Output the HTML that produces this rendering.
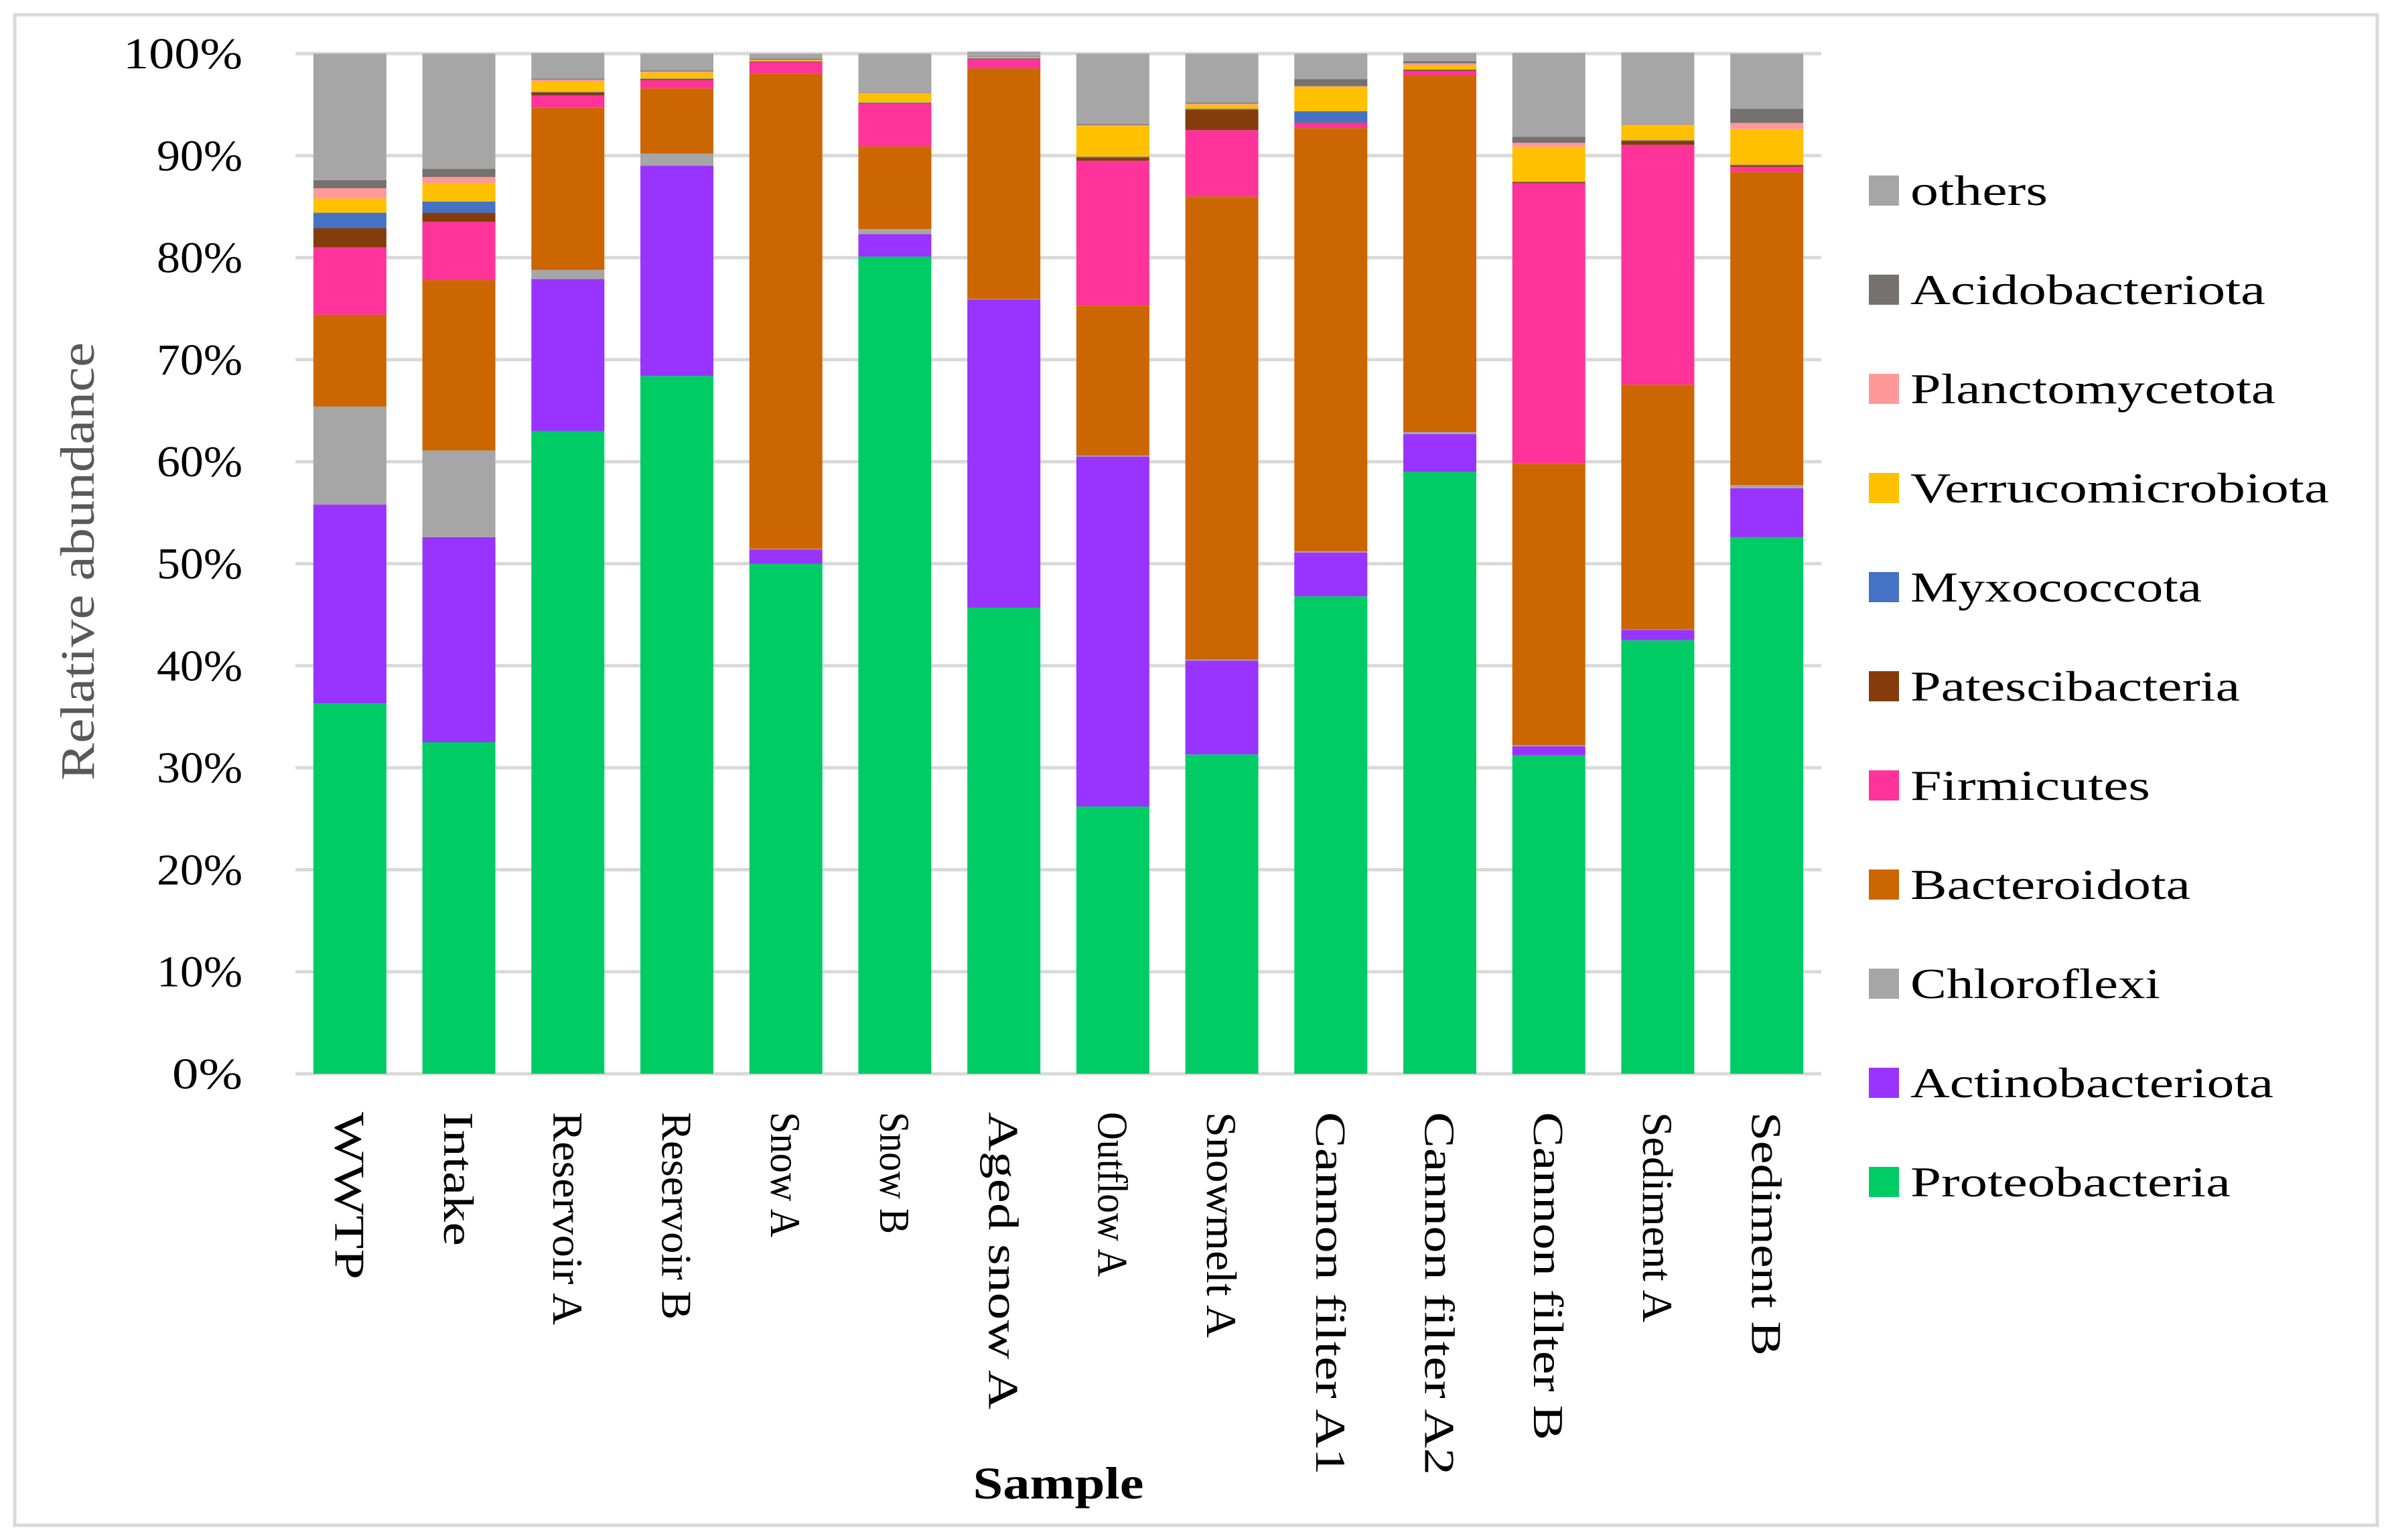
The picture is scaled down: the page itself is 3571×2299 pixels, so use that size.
<!DOCTYPE html>
<html><head><meta charset="utf-8"><style>
html,body{margin:0;padding:0;background:#fff;}
svg{display:block;}
</style></head><body>
<svg id="chart" width="3571" height="2299" viewBox="0 0 3571 2299" xmlns="http://www.w3.org/2000/svg" font-family="'Liberation Serif', serif">
<rect x="22" y="22" width="3527" height="2255" fill="#fff" stroke="#d9d9d9" stroke-width="5"/>
<g id="grid"></g><g id="bars"></g><g id="yticks"></g><g id="xlabels"></g><g id="legend"></g>
<text transform="translate(140,838) rotate(-90)" text-anchor="middle" font-size="72" fill="#595959" textLength="654" lengthAdjust="spacingAndGlyphs">Relative abundance</text>
<text x="1580" y="2237" text-anchor="middle" font-size="68" font-weight="bold" fill="#000" textLength="255" lengthAdjust="spacingAndGlyphs">Sample</text>
</svg>
<script>
const categories = ["WWTP","Intake","Reservoir A","Reservoir B","Snow A","Snow B","Aged snow A","Outflow A","Snowmelt A","Cannon filter A1","Cannon filter A2","Cannon filter B","Sediment A","Sediment B"];
const seriesNames = ["Proteobacteria","Actinobacteriota","Chloroflexi","Bacteroidota","Firmicutes","Patescibacteria","Myxococcota","Verrucomicrobiota","Planctomycetota","Acidobacteriota","others"];
const proteobacteria = [36.3,32.5,63.0,68.4,50.0,80.1,45.7,26.2,31.3,46.8,59.0,31.2,42.5,52.6];
const actinobacteriota = [19.5,20.1,14.9,20.6,1.4,2.2,30.2,34.3,9.2,4.3,3.7,0.9,1.0,4.8];
const chloroflexi = [9.6,8.5,0.9,1.2,0.05,0.5,0.05,0.1,0.1,0.1,0.2,0.1,0.05,0.3];
const bacteroidota = [9.0,16.7,15.9,6.4,46.6,8.1,22.6,14.7,45.4,41.5,35.0,27.6,24.0,30.7];
const firmicutes = [6.6,5.7,1.2,0.8,1.1,4.2,0.9,14.2,6.5,0.5,0.4,27.5,23.5,0.5];
const patescibacteria = [1.9,0.9,0.3,0.1,0.05,0.05,0.05,0.3,2.0,0.05,0.1,0.1,0.4,0.1];
const myxococcota = [1.5,1.1,0.05,0.05,0.05,0.05,0.05,0.1,0.1,1.1,0.05,0.05,0.05,0.1];
const verrucomicrobiota = [1.4,1.8,1.0,0.6,0.1,0.9,0.05,3.0,0.4,2.4,0.4,3.4,1.5,3.5];
const planctomycetota = [1.0,0.6,0.2,0.1,0.05,0.05,0.05,0.1,0.1,0.05,0.2,0.4,0.05,0.6];
const acidobacteriota = [0.8,0.8,0.1,0.1,0.1,0.05,0.05,0.1,0.1,0.7,0.2,0.6,0.05,1.4];
const others = [12.4,11.3,2.5,1.65,0.5,3.8,0.5,6.9,4.8,2.5,0.8,8.2,7.0,5.4];
const yTicks = [0,10,20,30,40,50,60,70,80,90,100];

const series = [proteobacteria,actinobacteriota,chloroflexi,bacteroidota,firmicutes,patescibacteria,myxococcota,verrucomicrobiota,planctomycetota,acidobacteriota,others];
const colors = ["#00CC66","#9933FF","#A6A6A6","#CC6600","#FF3399","#843C0C","#4472C4","#FFC000","#FF9999","#767171","#A6A6A6"];
const xLabelLen = {"WWTP":250,"Intake":200,"Reservoir A":318,"Reservoir B":310,"Snow A":187,"Snow B":182,"Aged snow A":444,"Outflow A":246,"Snowmelt A":337,"Cannon filter A1":542,"Cannon filter A2":542,"Cannon filter B":490,"Sediment A":314,"Sediment B":364};
const NS="http://www.w3.org/2000/svg";
const X0=441, X1=2719, Y0=1603, Y1=80;
const band=(X1-X0)/categories.length, barW=109;
function yScale(v){return Y0-(v/100)*(Y0-Y1);}
function xCenter(i){return X0+(i+0.5)*band;}
function mk(tag,attrs,parent){const e=document.createElementNS(NS,tag);for(const k in attrs)e.setAttribute(k,attrs[k]);parent.appendChild(e);return e;}
const grid=document.getElementById('grid'), yt=document.getElementById('yticks');
yTicks.forEach(t=>{
  const l=mk('line',{x1:X0,x2:X1,y1:yScale(t),y2:yScale(t),stroke:'#d9d9d9','stroke-width':5},grid);
  
  
  const len = t===100?178:(t===0?105:128);
  const tx=mk('text',{x:362-len,y:yScale(t)+22,'font-size':66,fill:'#000',textLength:len,lengthAdjust:'spacingAndGlyphs'},yt);
  tx.textContent=t+'%';
  
  
});
const bars=document.getElementById('bars'), xl=document.getElementById('xlabels');
categories.forEach((c,i)=>{
  let cum=0;
  series.forEach((s,k)=>{
    const v=s[i];
    const r=mk('rect',{x:xCenter(i)-barW/2,y:yScale(cum+v),width:barW,height:Math.max(0,yScale(cum)-yScale(cum+v)),fill:colors[k]},bars);
    
    
    cum+=v;
  });
  const t=mk('text',{transform:'translate('+(xCenter(i)-22)+',1660) rotate(90)','font-size':63,fill:'#000',textLength:xLabelLen[c],lengthAdjust:'spacingAndGlyphs'},xl);
  t.textContent=c;
  
  
});
const lg=document.getElementById('legend');
const lw={"others":205,"Acidobacteriota":530,"Planctomycetota":545,"Verrucomicrobiota":625,"Myxococcota":435,"Patescibacteria":492,"Firmicutes":358,"Bacteroidota":418,"Chloroflexi":373,"Actinobacteriota":542,"Proteobacteria":478};
for(let k=seriesNames.length-1, r=0;k>=0;k--,r++){
  const cy=285+r*148;
  const sw=mk('rect',{x:2790,y:cy-23,width:45,height:45,fill:colors[k]},lg);
  
  
  const t=mk('text',{x:2852,y:cy+21,'font-size':64,fill:'#000',textLength:lw[seriesNames[k]],lengthAdjust:'spacingAndGlyphs'},lg);
  t.textContent=seriesNames[k];
  
  
}
</script>
</body></html>
